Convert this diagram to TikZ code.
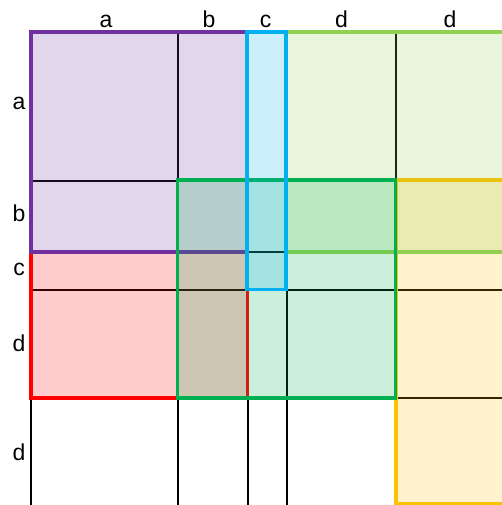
\documentclass[tikz,border=0pt]{standalone}
\usepackage{fontspec}
\setmainfont{Liberation Sans}
\definecolor{purpc}{HTML}{7030A0}
\definecolor{redc}{HTML}{FF0000}
\definecolor{grnc}{HTML}{00B050}
\definecolor{lgrnc}{HTML}{92D050}
\definecolor{yelc}{HTML}{FFC000}
\definecolor{bluc}{HTML}{00B0F0}
\tikzset{
  blk/.style={draw=#1,fill=#1,fill opacity=0.2,line width=3.5pt},
  grd/.style={line width=1.4pt,black},
  lbl/.style={font=\fontsize{23}{25}\selectfont,inner sep=0pt},
}
\begin{document}
\begin{tikzpicture}[x=1pt,y=-1pt]
 \useasboundingbox (0,0) rectangle (501,505);
 % ---- grid lines
 \foreach \x in {31,178,248,287,396}{\draw[grd] (\x,32)--(\x,507);}
 \foreach \y in {32,181,252,290,398}{\draw[grd] (31,\y)--(503,\y);}
 % ---- blocks
 \draw[blk=redc] (31,252) rectangle (247.5,398);
 \draw[blk=purpc] (31,32) rectangle (247,252);
 \draw[blk=yelc] (396,180) rectangle (512,503.5);
 \draw[blk=lgrnc] (286,32) rectangle (512,252);
 \draw[blk=grnc] (177.5,180) rectangle (395.5,398);
 \draw[blk=bluc] (247,32) rectangle (286,289.5);
 % ---- column and row labels
 \foreach \n/\x/\t in {ca/106/a,cb/209/b,cc/265.5/c,cd/341.5/d,ce/450/d}{\node[lbl,anchor=base] (\n) at (\x,27.5){\t};}
 \foreach \n/\y/\t in {ra/103/a,rb/213/b,rc/269/c,rd/343/d,re/452/d}{\node[lbl] (\n) at (19,\y){\t};}
\end{tikzpicture}
\end{document}
